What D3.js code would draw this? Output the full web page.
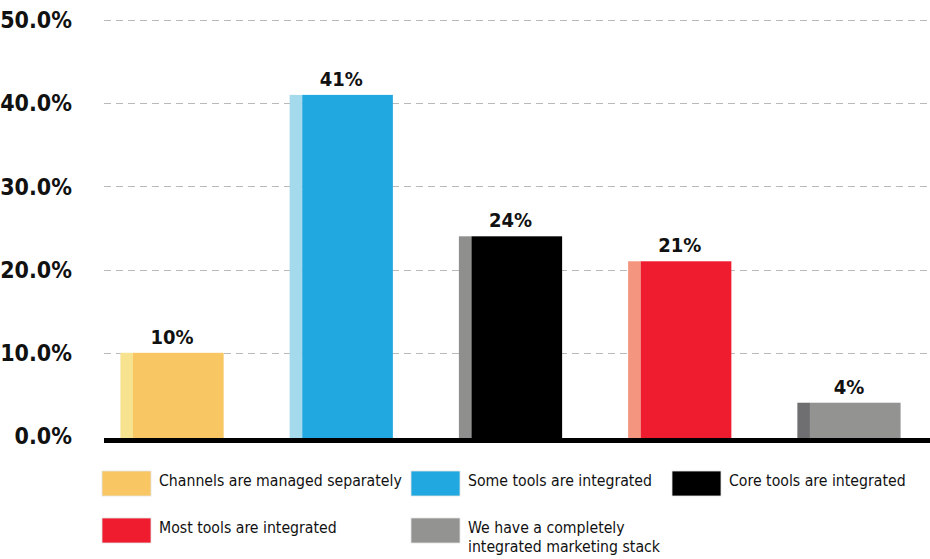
<!DOCTYPE html>
<html>
<head>
<meta charset="utf-8">
<script src="https://cdn.jsdelivr.net/npm/d3@7"></script>
<style>
  html, body { margin: 0; padding: 0; background: #fff; }
  svg { display: block; }
  .tick-label { font-family: "DejaVu Sans Condensed", "DejaVu Sans", sans-serif; font-weight: bold; }
  .value-label { font-family: "DejaVu Sans Condensed", "DejaVu Sans", sans-serif; font-weight: bold; }
  .legend-label { font-family: "DejaVu Sans Condensed", "DejaVu Sans", sans-serif; }
</style>
</head>
<body>
<svg id="chart" width="930" height="559"></svg>
<script>
// Survey answers: how integrated is the marketing stack
const categories = [
  "Channels are managed separately",
  "Some tools are integrated",
  "Core tools are integrated",
  "Most tools are integrated",
  "We have a completely integrated marketing stack"
];
const values = [10, 41, 24, 21, 4];
const valueLabels = ["10%", "41%", "24%", "21%", "4%"];
const mainColors = ["#f8c663", "#21a8e0", "#000000", "#ee1c2e", "#939391"];
const edgeColors = ["#f6e28f", "#a5d9ec", "#8f8f8d", "#f4957f", "#6f6f71"];
const yTicks = [0, 10, 20, 30, 40, 50];
const yTickLabels = ["0.0%", "10.0%", "20.0%", "30.0%", "40.0%", "50.0%"];
// legend text lines per entry (last one wraps)
const legendLines = [
  ["Channels are managed separately"],
  ["Some tools are integrated"],
  ["Core tools are integrated"],
  ["Most tools are integrated"],
  ["We have a completely", "integrated marketing stack"]
];

const svg = d3.select("#chart");
const width = 930;

const y = d3.scaleLinear().domain([0, 50]).range([436, 20]);
const x = d3.scaleBand()
  .domain(categories)
  .range([87.4, 933.6])
  .paddingInner(0.39)
  .paddingOuter(0.195);

const plotLeft = 104;

// dashed gridlines
svg.append("g")
  .selectAll("line")
  .data(yTicks.filter(t => t > 0))
  .join("line")
  .attr("x1", plotLeft)
  .attr("x2", width)
  .attr("y1", d => Math.round(y(d)) + 0.5)
  .attr("y2", d => Math.round(y(d)) + 0.5)
  .attr("stroke", "#b9b9b9")
  .attr("stroke-width", 1)
  .attr("stroke-dasharray", "7,5");

// y tick labels
svg.append("g")
  .selectAll("text")
  .data(yTicks)
  .join("text")
  .attr("class", "tick-label")
  .attr("x", 72)
  .attr("y", d => y(d))
  .attr("dy", "0.36em")
  .attr("text-anchor", "end")
  .attr("font-size", 23)
  .attr("fill", "#111")
  .text((d, i) => yTickLabels[i]);

// bars: narrow lighter strip on the left, main block to the right
const stripFrac = 0.122;
const bars = svg.append("g")
  .selectAll("g")
  .data(categories)
  .join("g");

bars.append("rect")
  .attr("x", d => x(d))
  .attr("y", (d, i) => y(values[i]))
  .attr("width", x.bandwidth() * stripFrac)
  .attr("height", (d, i) => y(0) - y(values[i]) + 2)
  .attr("fill", (d, i) => edgeColors[i]);

bars.append("rect")
  .attr("x", d => x(d) + x.bandwidth() * stripFrac)
  .attr("y", (d, i) => y(values[i]))
  .attr("width", x.bandwidth() * (1 - stripFrac))
  .attr("height", (d, i) => y(0) - y(values[i]) + 2)
  .attr("fill", (d, i) => mainColors[i]);

// value labels above bars
bars.append("text")
  .attr("class", "value-label")
  .attr("x", d => x(d) + x.bandwidth() / 2)
  .attr("y", (d, i) => y(values[i]) - 9)
  .attr("text-anchor", "middle")
  .attr("font-size", 20)
  .attr("fill", "#111")
  .text((d, i) => valueLabels[i]);

// baseline
svg.append("line")
  .attr("x1", plotLeft)
  .attr("x2", width)
  .attr("y1", y(0) + 4.5)
  .attr("y2", y(0) + 4.5)
  .attr("stroke", "#000")
  .attr("stroke-width", 5);

// legend
const legendPos = [
  { x: 102, y: 471 },
  { x: 411, y: 471 },
  { x: 672, y: 471 },
  { x: 102, y: 518 },
  { x: 411, y: 518 }
];
const legend = svg.append("g")
  .selectAll("g")
  .data(categories)
  .join("g")
  .attr("transform", (d, i) => `translate(${legendPos[i].x},${legendPos[i].y})`);

legend.append("rect")
  .attr("width", 49)
  .attr("height", 25)
  .attr("fill", (d, i) => mainColors[i])
  .attr("stroke", "#e4e4e4")
  .attr("stroke-width", 0.8);

legend.append("text")
  .attr("class", "legend-label")
  .attr("x", 57)
  .attr("y", 9.5)
  .attr("font-size", 15.7)
  .attr("fill", "#111")
  .selectAll("tspan")
  .data((d, i) => legendLines[i])
  .join("tspan")
  .attr("x", 57)
  .attr("dy", (l, j) => j === 0 ? "0.36em" : "1.2em")
  .text(l => l);
</script>
</body>
</html>
